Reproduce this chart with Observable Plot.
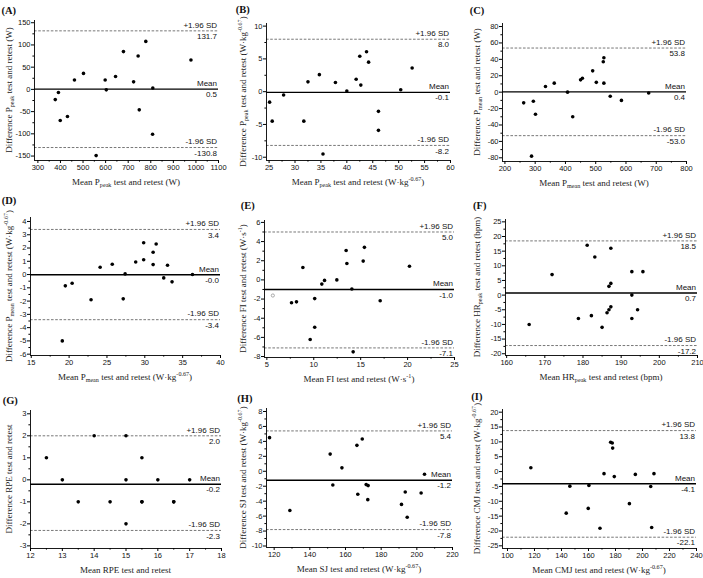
<!DOCTYPE html>
<html><head><meta charset="utf-8">
<script src="https://cdn.jsdelivr.net/npm/d3@7"></script>
<script src="https://cdn.jsdelivr.net/npm/@observablehq/plot@0.6"></script>
<style>
html,body{margin:0;padding:0;background:#fff;}
#wrap{position:relative;width:703px;height:578px;overflow:hidden;background:#fff;}
#wrap svg{position:absolute;overflow:visible;}
</style></head><body><div id="wrap"></div>
<script>
// ---------- DATA ----------
const aMean = [377, 391, 399, 431, 462, 502, 558, 598, 603, 644, 679, 724, 744, 749, 778, 808, 809, 978];
const aDiff = [-23, -7, -70, -61, 21, 36, -149, 21, -1, 29, 85, 17, 75, -46, 108, -101, 3, 66];
const aLimits = [131.7, 0.5, -130.8];
const aXTicks = [300, 400, 500, 600, 700, 800, 900, 1000, 1100];
const aYTicks = [-150, -100, -50, 0, 50, 100, 150];

const bMean = [25.1, 25.6, 27.8, 31.7, 32.5, 34.7, 35.4, 37.8, 40.0, 41.8, 42.5, 42.7, 43.8, 44.2, 46.1, 46.1, 50.4, 52.6];
const bDiff = [-1.6, -4.5, -0.5, -4.5, 1.5, 2.6, -9.5, 1.4, 0.1, 1.9, 5.4, 1.0, 6.1, 4.5, -3.0, -5.9, 0.3, 3.6];
const bLimits = [8.0, -0.1, -8.2];
const bXTicks = [25, 30, 35, 40, 45, 50, 55, 60];
const bYTicks = [-10, -5, 0, 5, 10];

const cMean = [262, 288, 294, 301, 334, 363, 407, 424, 450, 456, 490, 502, 525, 527, 527, 548, 585, 675];
const cDiff = [-13, -78, -11, -27, 7, 11, 0, -30, 15, 17, 26, 12, 37, 42, 11, -5, -10, -1];
const cLimits = [53.8, 0.4, -53.0];
const cXTicks = [200, 300, 400, 500, 600, 700, 800];
const cYTicks = [-80, -60, -40, -20, 0, 20, 40, 60, 80];

const dMean = [19.1, 19.5, 20.4, 22.9, 24.1, 25.7, 27.15, 27.4, 28.8, 29.85, 29.85, 31.1, 31.1, 31.5, 32.5, 33.0, 33.6, 36.3];
const dDiff = [-5.0, -0.85, -0.65, -1.9, 0.55, 0.78, -1.83, 0.05, 0.95, 2.4, 1.12, 1.68, 0.75, 2.3, -0.25, 0.7, -0.55, 0.0];
const dLimits = [3.4, -0.02, -3.4];
const dXTicks = [15, 20, 25, 30, 35, 40];
const dYTicks = [-6, -5, -4, -3, -2, -1, 0, 1, 2, 3, 4];

const eMean = [7.63, 8.16, 8.84, 9.62, 10.1, 10.1, 10.86, 11.15, 12.46, 13.45, 13.53, 14.06, 14.2, 15.27, 15.4, 17.08, 20.2];
const eDiff = [-2.39, -2.29, 1.29, -6.22, -1.95, -4.94, -0.44, -0.05, 0.0, 3.07, 1.71, -0.95, -7.51, 1.96, 3.4, -2.18, 1.43];
const eOpenMean = [5.64];
const eOpenDiff = [-1.63];
const eLimits = [5.0, -1.0, -7.1];
const eXTicks = [5, 10, 15, 20, 25];
const eYTicks = [-8, -6, -4, -2, 0, 2, 4, 6];

const fMean = [165.9, 171.9, 178.8, 181.1, 182.2, 183.1, 185.0, 186.3, 186.8, 186.8, 187.3, 187.3, 187.3, 192.8, 192.8, 192.8, 194.3, 195.7];
const fDiff = [-10, 7, -8, 17, -7, 13, -11, -6, -5, 3, 4, -4, 16, 8, 0, -8, -5, 8];
const fLimits = [18.5, 0.7, -17.2];
const fXTicks = [160, 170, 180, 190, 200, 210];
const fYTicks = [-20, -15, -10, -5, 0, 5, 10, 15, 20, 25];

const gMean = [12.5, 13, 13.5, 14, 14.5, 15, 15, 15, 15.5, 15.5, 15.5, 16, 16.5, 16.5, 17];
const gDiff = [1, 0, -1, 2, -1, 2, 0, -2, 1, -1, -1, 0, -1, -1, 0];
const gLimits = [2.0, -0.2, -2.3];
const gXTicks = [12, 13, 14, 15, 16, 17, 18];
const gYTicks = [-3, -2, -1, 0, 1, 2, 3];

const hMean = [117.4, 128.8, 151.4, 152.9, 158.0, 166.4, 166.9, 169.4, 171.6, 172.7, 172.5, 191.4, 193.5, 194.6, 202.4, 204.3];
const hDiff = [4.5, -5.24, 2.3, -1.83, 0.46, 3.47, -3.07, 4.32, -1.78, -1.92, -3.8, -4.43, -2.77, -6.15, -2.9, -0.39];
const hLimits = [5.4, -1.2, -7.8];
const hXTicks = [120, 140, 160, 180, 200, 220];
const hYTicks = [-10, -8, -6, -4, -2, 0, 2, 4, 6, 8];

const iMean = [117.3, 143.5, 146.2, 159.8, 160.3, 168.5, 171.5, 176.4, 177.6, 177.9, 179.1, 190.3, 194.7, 206.1, 206.8, 208.5];
const iDiff = [1.3, -14.0, -4.9, -12.4, -4.66, -19.1, -0.7, 9.86, 9.6, 7.9, -1.7, -10.8, -0.95, -5.0, -18.85, -0.7];
const iLimits = [13.8, -4.1, -22.1];
const iXTicks = [100, 120, 140, 160, 180, 200, 220, 240];
const iYTicks = [-25, -20, -15, -10, -5, 0, 5, 10, 15, 20];

const limitNames = ["+1.96 SD", "Mean", "-1.96 SD"];
const panelIds = ["A", "B", "C", "D", "E", "F", "G", "H", "I"];
const xTitles = [
  "Mean P_{peak} test and retest (W)",
  "Mean P_{peak} test and retest (W\u00B7kg^{-0.67})",
  "Mean P_{mean} test and retest (W)",
  "Mean P_{mean} test and retest (W\u00B7kg^{-0.67})",
  "Mean FI test and retest (W\u00B7s^{-1})",
  "Mean HR_{peak} test and retest (bpm)",
  "Mean RPE test and retest",
  "Mean SJ test and retest (W\u00B7kg^{-0.67})",
  "Mean CMJ test and retest (W\u00B7kg^{-0.67})"
];
const yTitles = [
  "Difference P_{peak} test and retest (W)",
  "Difference P_{peak} test and retest (W\u00B7kg^{-0.67})",
  "Difference P_{mean} test and retest (W)",
  "Difference P_{mean} test and retest (W\u00B7kg^{-0.67})",
  "Difference FI test and retest (W\u00B7s^{-1})",
  "Difference HR_{peak} test and retest (bpm)",
  "Difference RPE test and retest",
  "Difference SJ test and retest (W\u00B7kg^{-0.67})",
  "Difference CMJ test and retest (W\u00B7kg^{-0.67})"
];

// ---------- LAYOUT (per panel) ----------
const layout = [
  {mean: aMean, diff: aDiff, lim: aLimits, xt: aXTicks, yt: aYTicks, xd: [285, 1100], yd: [-160, 155], L: 34, R: 218, T: 20, B: 160, lx: 1.5, ly: 14},
  {mean: bMean, diff: bDiff, lim: bLimits, xt: bXTicks, yt: bYTicks, xd: [24.5, 60], yd: [-10.5, 10.4], L: 32, R: 216, T: 23, B: 160, lx: 1.7, ly: 13},
  {mean: cMean, diff: cDiff, lim: cLimits, xt: cXTicks, yt: cYTicks, xd: [192, 800], yd: [-84.5, 83.7], L: 34, R: 218, T: 23, B: 161, lx: 1.7, ly: 14},
  {mean: dMean, diff: dDiff, lim: dLimits, xt: dXTicks, yt: dYTicks, xd: [14.9, 40], yd: [-6.1, 4.3], L: 30, R: 220, T: 25, B: 163, lx: 1.7, ly: 12},
  {mean: eMean, diff: eDiff, lim: eLimits, xt: eXTicks, yt: eYTicks, xd: [4.75, 25], yd: [-8.1, 6.2], L: 30, R: 220, T: 28, B: 165, lx: 6.7, ly: 17, open: [eOpenMean, eOpenDiff]},
  {mean: fMean, diff: fDiff, lim: fLimits, xt: fXTicks, yt: fYTicks, xd: [159.7, 210], yd: [-20.6, 25.8], L: 37, R: 229, T: 27, B: 163, lx: 5, ly: 17},
  {mean: gMean, diff: gDiff, lim: gLimits, xt: gXTicks, yt: gYTicks, xd: [12, 18], yd: [-3.12, 3.15], L: 30, R: 221, T: 25, B: 163, lx: 2.7, ly: 19},
  {mean: hMean, diff: hDiff, lim: hLimits, xt: hXTicks, yt: hYTicks, xd: [115.7, 220], yd: [-10.2, 8.4], L: 32, R: 218, T: 23, B: 162, lx: 3.3, ly: 17},
  {mean: iMean, diff: iDiff, lim: iLimits, xt: iXTicks, yt: iYTicks, xd: [96.3, 240], yd: [-25.9, 20.9], L: 34, R: 228, T: 24, B: 163, lx: 3.3, ly: 15}
];
const colX = [0, 234, 468], colW = [234, 234, 235];
const rowY = [0, 192, 385], rowH = [192, 193, 193];

const SANS = "'Liberation Sans', Arial, sans-serif";
const SERIF = "'Liberation Serif', 'Times New Roman', serif";

function rich(sel, str, fs) {
  const parts = str.split(/(_\{[^}]*\}|\^\{[^}]*\})/).filter(s => s.length);
  let shift = 0;
  for (const p of parts) {
    let target = 0, txt = p, size = fs;
    if (p.startsWith("_{")) { target = fs * 0.3; txt = p.slice(2, -1); size = fs * 0.68; }
    else if (p.startsWith("^{")) { target = -fs * 0.38; txt = p.slice(2, -1); size = fs * 0.68; }
    sel.append("tspan").attr("dy", target - shift).attr("font-size", size).text(txt);
    shift = target;
  }
}

const mids = t => d3.pairs(t).map(([a, b]) => (a + b) / 2);
const wrap = document.getElementById("wrap");

layout.forEach((p, k) => {
  const col = k % 3, row = Math.floor(k / 3);
  const W = colW[col], H = rowH[row];
  const pts = p.mean.map((m, i) => ({x: m, y: p.diff[i]}));
  const lines = p.lim.map((v, i) => ({y: v, name: limitNames[i], val: v.toFixed(1)}));
  const xMax = p.xd[1];
  const marks = [
    Plot.ruleY(lines.filter((d, i) => i !== 1), {y: "y", stroke: "#555", strokeWidth: 0.8, strokeDasharray: "2.6,1.6"}),
    Plot.ruleY(lines.filter((d, i) => i === 1), {y: "y", stroke: "#000", strokeWidth: 1.4}),
    Plot.ruleX([p.xd[0]], {stroke: "#000", strokeWidth: 0.9}),
    Plot.ruleY([p.yd[0]], {stroke: "#000", strokeWidth: 0.9}),
    Plot.axisX({ticks: p.xt, tickSize: 3, tickPadding: 1, label: null, tickFormat: d => String(d), fill: "#111"}),
    Plot.axisX({ticks: mids(p.xt), tickSize: 1.6, label: null, tickFormat: () => ""}),
    Plot.axisY({ticks: p.yt, tickSize: 3, tickPadding: 1, label: null, tickFormat: d => String(d), fill: "#111"}),
    Plot.axisY({ticks: mids(p.yt), tickSize: 1.6, label: null, tickFormat: () => ""}),
    Plot.text(lines, {x: () => xMax, y: "y", text: "name", textAnchor: "end", lineAnchor: "middle", dx: -1.5, dy: -5.8, fontSize: 8, fill: "#111"}),
    Plot.text(lines, {x: () => xMax, y: "y", text: "val", textAnchor: "end", lineAnchor: "middle", dx: -1.5, dy: 5.6, fontSize: 8, fill: "#111"}),
    Plot.dot(pts, {x: "x", y: "y", r: 1.8, fill: "#000", stroke: "none"})
  ];
  if (p.open) {
    const op = p.open[0].map((m, i) => ({x: m, y: p.open[1][i]}));
    marks.push(Plot.dot(op, {x: "x", y: "y", r: 1.6, fill: "none", stroke: "#888", strokeWidth: 0.7}));
  }
  const svg = Plot.plot({
    width: W, height: H,
    marginLeft: p.L, marginRight: W - p.R, marginTop: p.T, marginBottom: H - p.B,
    x: {domain: p.xd},
    y: {domain: p.yd},
    style: {fontFamily: SANS, fontSize: "7.5px", background: "transparent", overflow: "visible", color: "#000"},
    marks
  });
  svg.style.left = colX[col] + "px";
  svg.style.top = rowY[row] + "px";
  wrap.appendChild(svg);
  const s = d3.select(svg);
  // panel label
  s.append("text").attr("x", p.lx).attr("y", p.ly).attr("text-anchor", "start")
    .attr("font-family", SERIF).attr("font-weight", "bold").attr("font-size", 10.5).attr("fill", "#111")
    .text("(" + panelIds[k] + ")");
  // x title
  const xt = s.append("text").attr("x", (p.L + p.R) / 2).attr("y", p.B + 24.5)
    .attr("text-anchor", "middle").attr("font-family", SERIF).attr("font-size", 9).attr("fill", "#222");
  rich(xt, xTitles[k], 9);
  // y title
  const yt = s.append("text").attr("transform", `translate(11.5,${(p.T + p.B) / 2}) rotate(-90)`)
    .attr("text-anchor", "middle").attr("font-family", SERIF).attr("font-size", 9).attr("fill", "#222");
  rich(yt, yTitles[k], 9);
});
</script>
</body></html>
